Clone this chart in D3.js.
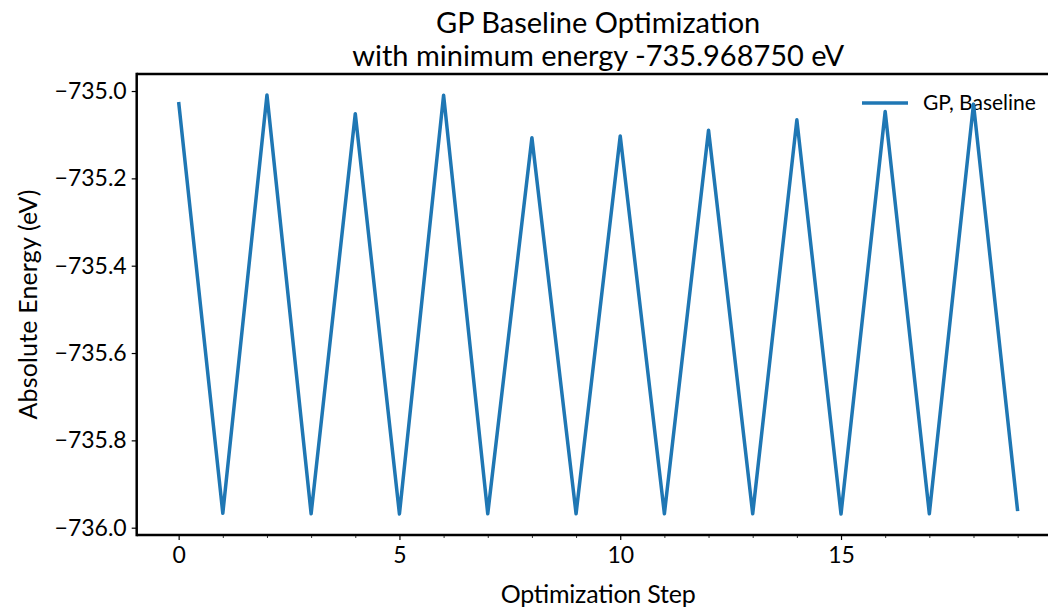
<!DOCTYPE html>
<html>
<head>
<meta charset="utf-8">
<script src="https://cdn.jsdelivr.net/npm/d3@7"></script>
<style>
  html, body { margin: 0; padding: 0; background: #fff; overflow: hidden; }
  svg { display: block; font-family: Lato, "Open Sans", sans-serif; }
</style>
</head>
<body>
<svg id="chart" width="1048" height="608"></svg>
<script>
const steps = [0,1,2,3,4,5,6,7,8,9,10,11,12,13,14,15,16,17,18,19];
const energies = [
  -735.025, -735.967, -735.009, -735.968, -735.052, -735.9685, -735.0095, -735.968,
  -735.107, -735.968, -735.103, -735.968, -735.090, -735.968, -735.066, -735.96875,
  -735.047, -735.968, -735.030, -735.962
];
const xTicks = [0, 5, 10, 15];
const xMinorTicks = [1,2,3,4,6,7,8,9,11,12,13,14,16,17,18,19];
const yTicks = [-736.0, -735.8, -735.6, -735.4, -735.2, -735.0];
const seriesName = "GP, Baseline";
const titleLines = ["GP Baseline Optimization", "with minimum energy -735.968750 eV"];
const xLabel = "Optimization Step";
const yLabel = "Absolute Energy (eV)";

const svg = d3.select("#chart");
const pL = 136.7, pR = 1059.6, pT = 74, pB = 535;
const color = "#1f77b4";

const xExt = d3.extent(steps), yExt = d3.extent(energies);
const xPad = (xExt[1] - xExt[0]) * 0.05, yPad = (yExt[1] - yExt[0]) * 0.05;
const x = d3.scaleLinear().domain([xExt[0] - xPad, xExt[1] + xPad]).range([pL, pR]);
const y = d3.scaleLinear().domain([yExt[0] - yPad, yExt[1] + yPad]).range([pB, pT]);

const fmtY = v => d3.format(".1f")(v).replace("-", "\u2212");

// x axis major
const xAxis = svg.append("g").attr("transform", `translate(0,${pB})`)
  .call(d3.axisBottom(x).tickValues(xTicks).tickFormat(d3.format("d")).tickSize(5).tickPadding(7));
xAxis.select(".domain").remove();
xAxis.selectAll("text").attr("font-size", 23).attr("fill", "#000").attr("font-family", "Lato, sans-serif");
xAxis.selectAll("line").attr("stroke", "#000").attr("stroke-width", 1.2);
// x axis minor
const xMinor = svg.append("g").attr("transform", `translate(0,${pB})`)
  .call(d3.axisBottom(x).tickValues(xMinorTicks).tickFormat("").tickSize(3));
xMinor.select(".domain").remove();
xMinor.selectAll("line").attr("stroke", "#000").attr("stroke-width", 0.8);

// y axis
const yAxis = svg.append("g").attr("transform", `translate(${pL},0)`)
  .call(d3.axisLeft(y).tickValues(yTicks).tickFormat(fmtY).tickSize(5).tickPadding(5));
yAxis.select(".domain").remove();
yAxis.selectAll("text").attr("font-size", 23).attr("fill", "#000").attr("font-family", "Lato, sans-serif");
yAxis.selectAll("line").attr("stroke", "#000").attr("stroke-width", 1.2);

// legend
const lg = svg.append("g");
lg.append("line").attr("x1", 862).attr("x2", 908).attr("y1", 103).attr("y2", 103)
  .attr("stroke", color).attr("stroke-width", 3.5);
lg.append("text").attr("x", 923).attr("y", 103).attr("dy", "0.35em")
  .attr("font-size", 21).attr("fill", "#000").text(seriesName);

// line
const line = d3.line().x((d, i) => x(steps[i])).y(d => y(d));
svg.append("path").datum(energies).attr("d", line)
  .attr("fill", "none").attr("stroke", color).attr("stroke-width", 3.5)
  .attr("stroke-linejoin", "round").attr("stroke-linecap", "butt");

// spines
svg.append("line").attr("x1", pL).attr("x2", pR + 10).attr("y1", pT).attr("y2", pT)
  .attr("stroke", "#000").attr("stroke-width", 2.5);
svg.append("line").attr("x1", pL).attr("x2", pR + 10).attr("y1", pB).attr("y2", pB)
  .attr("stroke", "#000").attr("stroke-width", 2.5);
svg.append("line").attr("x1", pL).attr("x2", pL).attr("y1", pT - 1.25).attr("y2", pB + 1.25)
  .attr("stroke", "#000").attr("stroke-width", 2.5);

// titles
const cx = (pL + pR) / 2;
svg.append("text").attr("x", cx).attr("y", 33).attr("text-anchor", "middle")
  .attr("font-size", 29).text(titleLines[0]);
svg.append("text").attr("x", cx).attr("y", 66).attr("text-anchor", "middle")
  .attr("font-size", 29).text(titleLines[1]);
svg.append("text").attr("x", cx).attr("y", 603).attr("text-anchor", "middle")
  .attr("font-size", 25).attr("textLength", 195).attr("lengthAdjust", "spacing").text(xLabel);
svg.append("text").attr("transform", `translate(37,${(pT + pB) / 2}) rotate(-90)`)
  .attr("text-anchor", "middle").attr("font-size", 25)
  .attr("textLength", 230).attr("lengthAdjust", "spacing").text(yLabel);
</script>
</body>
</html>
